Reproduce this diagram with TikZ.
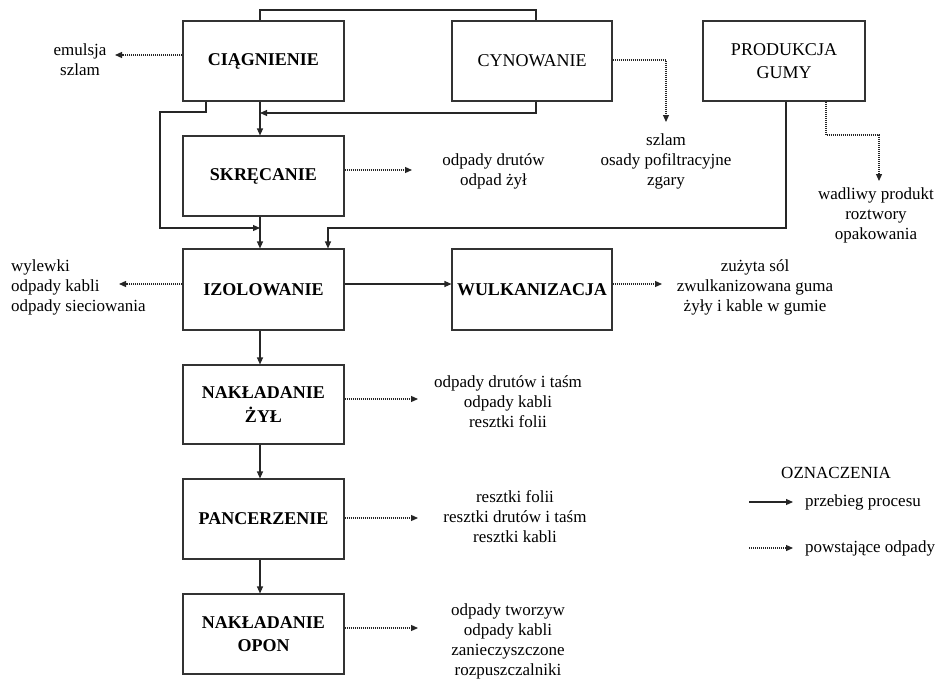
\documentclass[tikz,border=0pt]{standalone}
\usepackage{fontspec}
\setmainfont{Liberation Serif}
\usetikzlibrary{arrows.meta,calc}
\begin{document}
\begin{tikzpicture}[x=1pt,y=-1pt,
  box/.style={draw=black!80, line width=1.1pt, minimum width=161pt, minimum height=80pt, inner sep=0pt, align=center, font=\fontsize{18}{23.5}\selectfont\bfseries},
  boxl/.style={box, font=\fontsize{18}{23.5}\selectfont},
  lbl/.style={align=center, inner sep=0pt, font=\fontsize{17}{20}\selectfont},
  flow/.style={draw=black!85, line width=1.1pt, -{Triangle[length=7pt,width=6pt]}},
  waste/.style={draw=black!85, line width=1.2pt, dash pattern=on 1pt off 1pt, -{Triangle[length=7pt,width=6pt]}},
  plain/.style={draw=black!85, line width=1.1pt}]
\useasboundingbox (0,0) rectangle (939,680);

% process boxes
\node[box] (cia) at (263.5,61) {CIĄGNIENIE};
\node[boxl, minimum width=160pt] (cyn) at (532,61) {CYNOWANIE};
\node[boxl, minimum width=162pt] (pro) at (784,61) {PRODUKCJA\\GUMY};
\node[box] (skr) at (263.5,176) {SKRĘCANIE};
\node[box, minimum height=81pt] (izo) at (263.5,289.5) {IZOLOWANIE};
\node[box, minimum width=160pt, minimum height=81pt] (wul) at (532,289.5) {WULKANIZACJA};
\node[box, minimum height=79pt] (nzy) at (263.5,404.5) {NAKŁADANIE\\ŻYŁ};
\node[box] (pan) at (263.5,519) {PANCERZENIE};
\node[box] (nop) at (263.5,634) {NAKŁADANIE\\OPON};

% waste labels
\node[lbl] (em) at (80,59.5) {emulsja\\szlam};
\node[lbl] (sk) at (493.5,171) {odpady drutów\\odpad żył};
\node[lbl] (cy) at (666,161) {szlam\\osady pofiltracyjne\\zgary};
\node[lbl] (pr) at (876,215) {wadliwy produkt\\roztwory\\opakowania};
\node[lbl, align=left, anchor=west] (iz) at (11,287) {wylewki\\odpady kabli\\odpady sieciowania};
\node[lbl] (wu) at (755,287) {zużyta sól\\zwulkanizowana guma\\żyły i kable w gumie};
\node[lbl] (nz) at (508,402) {odpady drutów i taśm\\odpady kabli\\resztki folii};
\node[lbl] (pa) at (515,517) {resztki folii\\resztki drutów i taśm\\resztki kabli};
\node[lbl] (no) at (508,641) {odpady tworzyw\\odpady kabli\\zanieczyszczone\\rozpuszczalniki};

% legend
\node[lbl] (leg) at (836,473) {OZNACZENIA};
\node[lbl, anchor=west] (lg1) at (805,502) {przebieg procesu};
\node[lbl, anchor=west] (lg2) at (805,548) {powstające odpady};
\coordinate (la1) at (749,502);
\coordinate (la2) at (749,548);
\draw[flow] (la1) -- ($(lg1.west)+(-12,0)$);
\draw[waste] (la2) -- ($(lg2.west)+(-12,0)$);

% helper coordinates
\coordinate (mx) at (260,0);
\coordinate (t1) at (536,10);
\coordinate (t2) at (260,10);
\coordinate (b1) at (536,113);
\coordinate (c1) at (206,112);
\coordinate (c2) at (160,112);
\coordinate (c3) at (160,228);
\coordinate (p1) at (786,228);
\coordinate (p2) at (328,228);
\coordinate (yI) at (0,284);

% process flow
\draw[plain] (cyn.north -| t1) -- (t1) -- (t2) -- (cia.north -| t2);
\draw[flow] (cyn.south -| b1) -- (b1) -- (b1 -| mx);
\draw[flow] (cia.south -| mx) -- (skr.north -| mx);
\draw[flow] (cia.south -| c1) -- (c1) -- (c2) -- (c3) -- (c3 -| mx);
\draw[flow] (skr.south -| mx) -- (izo.north -| mx);
\draw[flow] (pro.south -| p1) -- (p1) -- (p2) -- (izo.north -| p2);
\draw[flow] (izo.east |- yI) -- (wul.west |- yI);
\draw[flow] (izo.south -| mx) -- (nzy.north -| mx);
\draw[flow] (nzy.south -| mx) -- (pan.north -| mx);
\draw[flow] (pan.south -| mx) -- (nop.north -| mx);

% waste flows
\coordinate (e1) at (115,55);
\coordinate (e2) at (412,170);
\coordinate (e3a) at (666,60);
\coordinate (e3) at (666,122);
\coordinate (e4a) at (826,135);
\coordinate (e4b) at (879,135);
\coordinate (e4) at (879,181);
\coordinate (e5) at (119,284);
\coordinate (e6) at (662,284);
\coordinate (e7) at (418,399);
\coordinate (e8) at (418,518);
\coordinate (e9) at (418,628);
\draw[waste] (cia.west |- e1) -- (e1);
\draw[waste] (skr.east |- e2) -- (e2);
\draw[waste] (cyn.east |- e3a) -- (e3a) -- (e3);
\draw[waste] (pro.south -| e4a) -- (e4a) -- (e4b) -- (e4);
\draw[waste] (izo.west |- e5) -- (e5);
\draw[waste] (wul.east |- e6) -- (e6);
\draw[waste] (nzy.east |- e7) -- (e7);
\draw[waste] (pan.east |- e8) -- (e8);
\draw[waste] (nop.east |- e9) -- (e9);
\end{tikzpicture}
\end{document}
